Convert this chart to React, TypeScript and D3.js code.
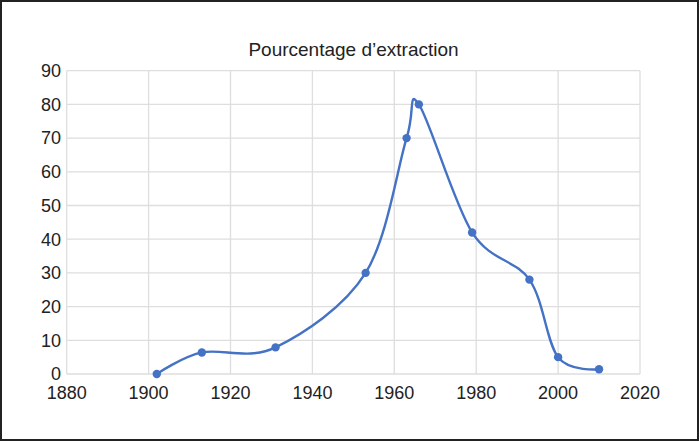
import React from "react";
import * as d3 from "d3";

const years = [1902, 1913, 1931, 1953, 1963, 1966, 1979, 1993, 2000, 2010];
const values = [0, 6.4, 7.9, 30, 70, 80, 42, 28, 5, 1.4];
const xTicks = [1880, 1900, 1920, 1940, 1960, 1980, 2000, 2020];
const yTicks = [0, 10, 20, 30, 40, 50, 60, 70, 80, 90];
const title = "Pourcentage d\u2019extraction";

export default function App() {
  const W = 700, H = 442;
  const x = d3.scaleLinear().domain([1880, 2020]).range([66.7, 640]);
  const y = d3.scaleLinear().domain([0, 90]).range([374, 70.7]);
  const pts = years.map((yr, i) => [yr, values[i]] as [number, number]);
  const line = d3
    .line<[number, number]>()
    .x((d) => x(d[0]))
    .y((d) => y(d[1]))
    .curve(d3.curveCatmullRom.alpha(0));
  const font = "'Liberation Sans', Arial, Helvetica, sans-serif";
  return (
    <svg
      width={W}
      height={H}
      style={{ position: "absolute", left: 0, top: 0, background: "#fff" }}
    >
      <rect x={0} y={0} width={W} height={H} fill="#fff" />
      <rect x={1} y={1} width={697} height={439} fill="none" stroke="#222" strokeWidth={2} />
      <text x={353.5} y={56} textAnchor="middle" fontFamily={font} fontSize={19} fill="#222">
        {title}
      </text>
      {yTicks.map((t) => (
        <line key={"gy" + t} x1={x(1880)} x2={x(2020)} y1={y(t)} y2={y(t)} stroke="#dedede" strokeWidth={1.3} />
      ))}
      {xTicks.map((t) => (
        <line key={"gx" + t} x1={x(t)} x2={x(t)} y1={y(0)} y2={y(90)} stroke="#dedede" strokeWidth={1.3} />
      ))}
      {yTicks.map((t) => (
        <text key={"ty" + t} x={61} y={y(t)} dy="0.35em" textAnchor="end" fontFamily={font} fontSize={18} fill="#222">
          {t}
        </text>
      ))}
      {xTicks.map((t) => (
        <text key={"tx" + t} x={x(t)} y={392.7} dy="0.35em" textAnchor="middle" fontFamily={font} fontSize={18} fill="#222">
          {t}
        </text>
      ))}
      <path d={line(pts) || ""} fill="none" stroke="#4472C4" strokeWidth={2.4} />
      {pts.map((p, i) => (
        <circle key={"p" + i} cx={x(p[0])} cy={y(p[1])} r={4.2} fill="#4472C4" />
      ))}
    </svg>
  );
}
